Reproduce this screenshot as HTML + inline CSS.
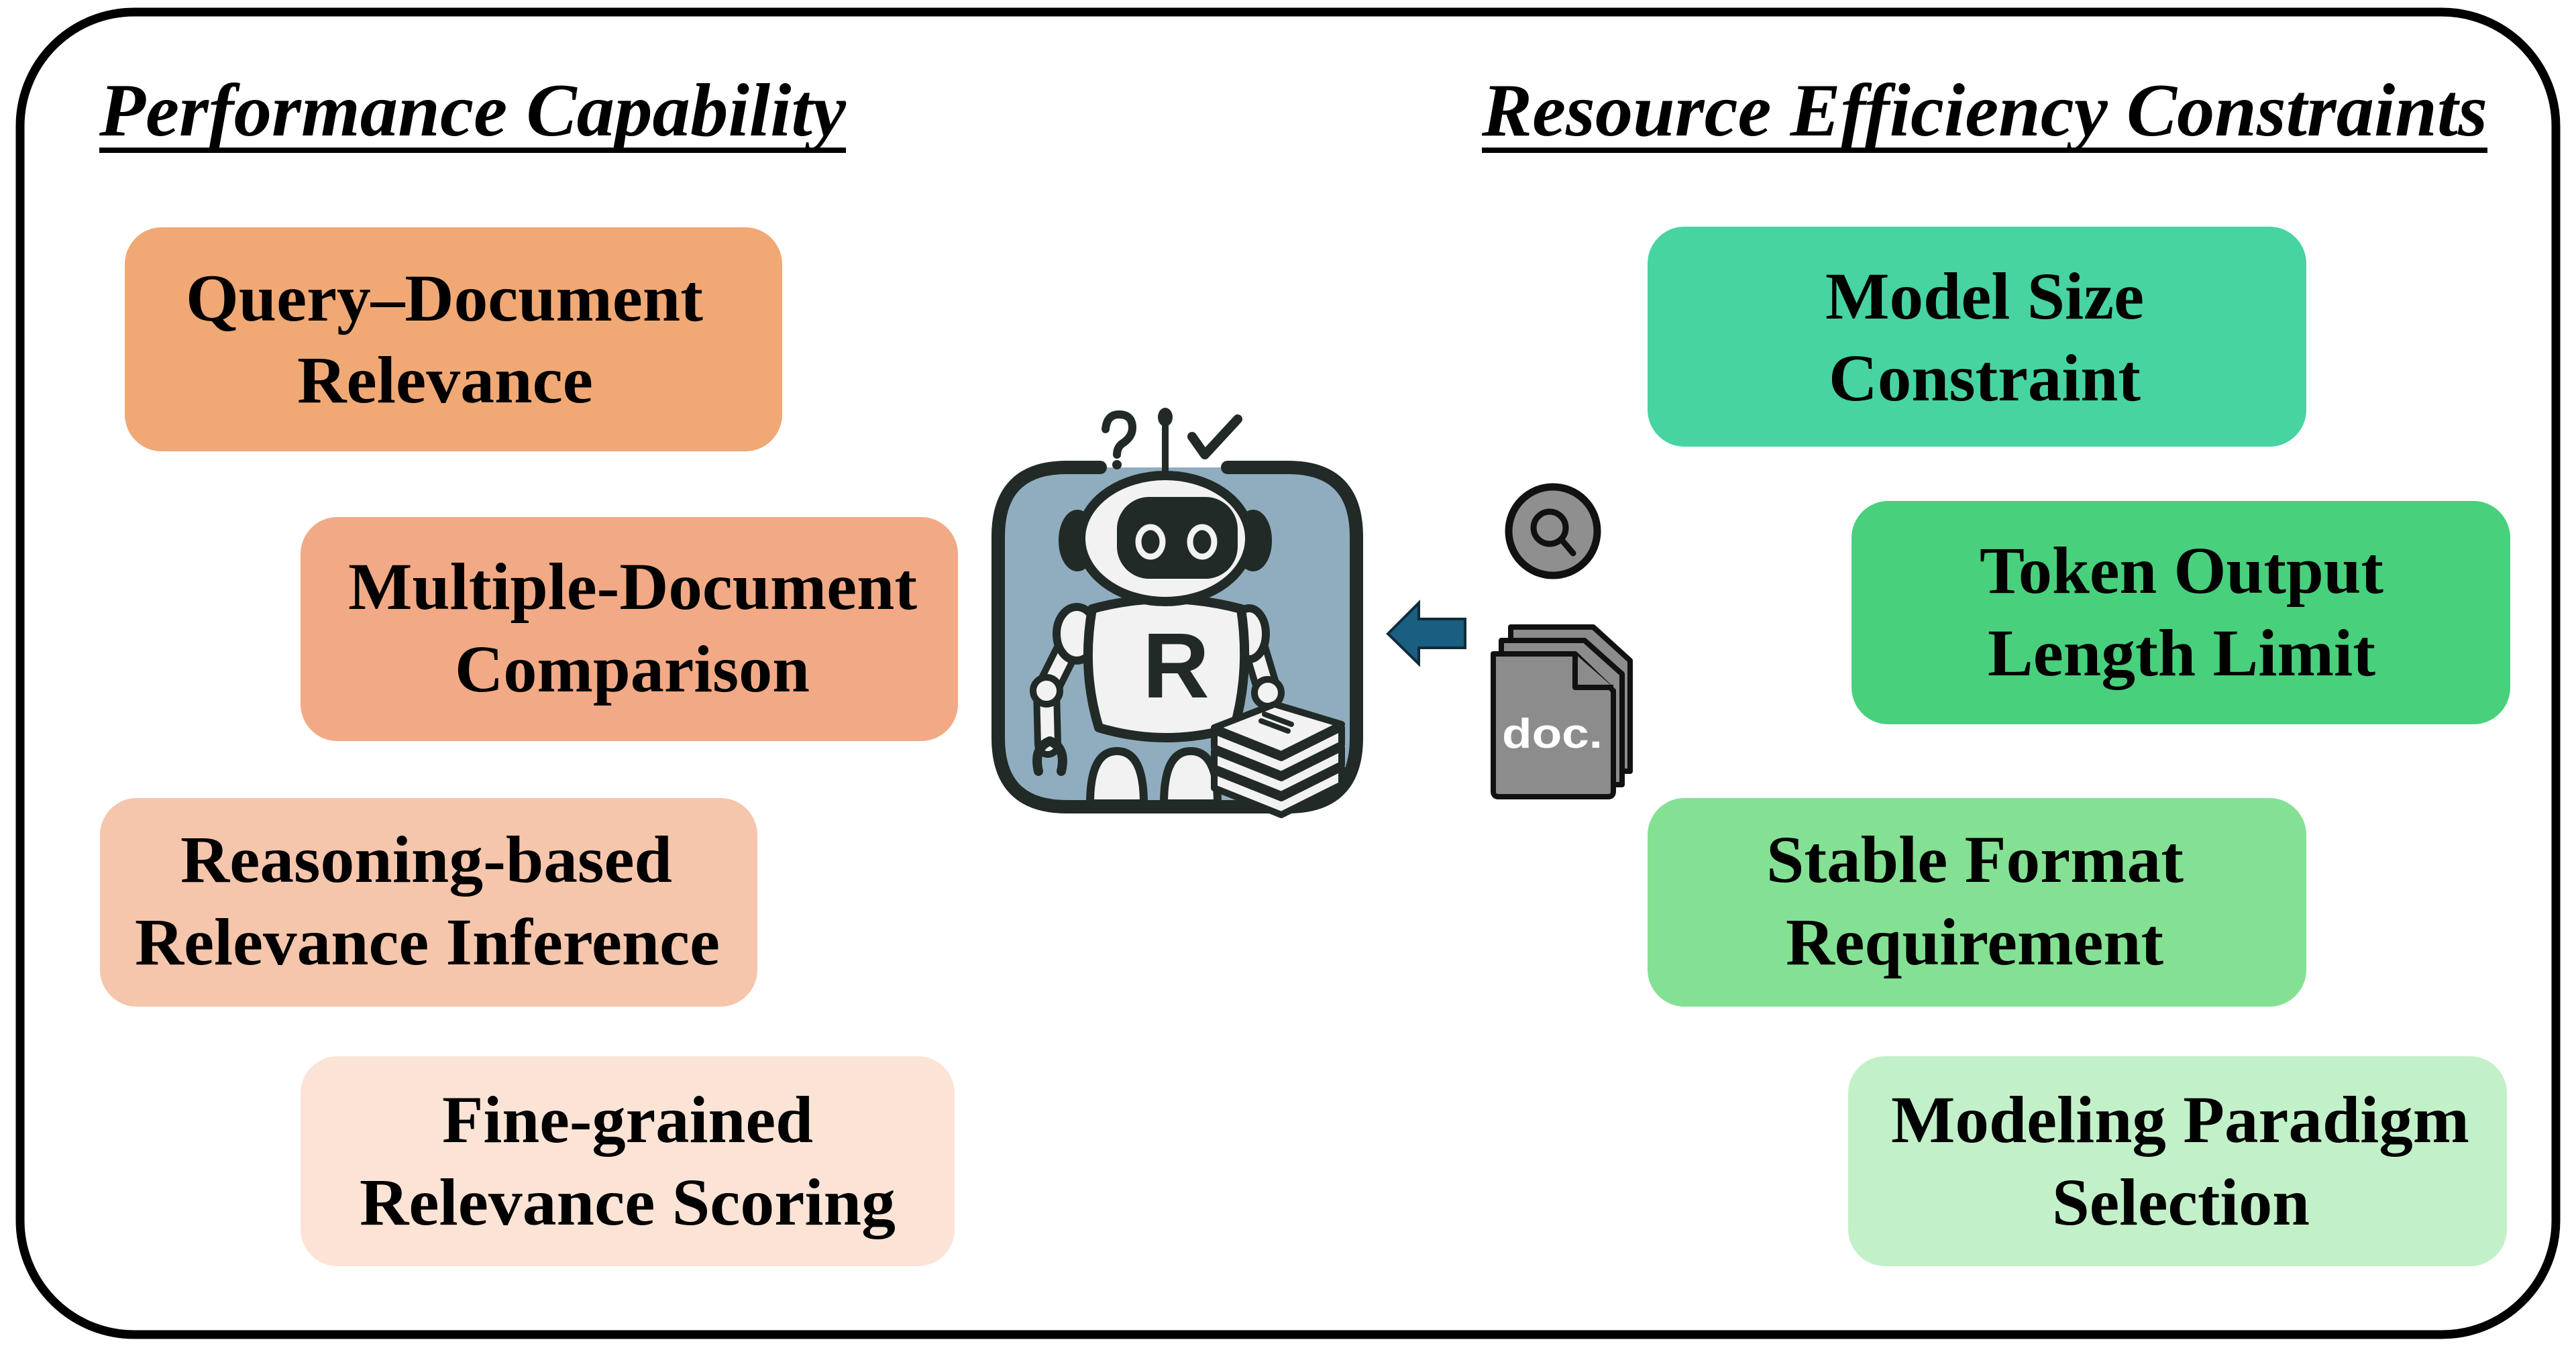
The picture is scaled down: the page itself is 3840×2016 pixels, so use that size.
<!DOCTYPE html>
<html><head><meta charset="utf-8"><style>
html,body{margin:0;padding:0;background:#fff;}
svg{display:block;}
text{font-family:"Liberation Serif",serif;font-weight:bold;fill:#000;}
</style></head><body>
<svg width="3840" height="2016" viewBox="0 0 3840 2016" xmlns="http://www.w3.org/2000/svg">
<rect x="30" y="18" width="3780" height="1972" rx="170" fill="#fff" stroke="#000" stroke-width="13"/>

<text x="148" y="202" font-size="112" font-style="italic" textLength="1113" lengthAdjust="spacingAndGlyphs">Performance Capability</text>
<rect x="148" y="220" width="1113" height="8" fill="#000"/>
<text x="2209" y="202" font-size="112" font-style="italic" textLength="1499" lengthAdjust="spacingAndGlyphs">Resource Efficiency Constraints</text>
<rect x="2209" y="220" width="1499" height="8" fill="#000"/>

<rect x="186" y="339" width="980" height="334" rx="55" fill="#f0a875"/>
<text x="277" y="478" font-size="100" textLength="771" lengthAdjust="spacingAndGlyphs">Query–Document</text>
<text x="443" y="600" font-size="100" textLength="441" lengthAdjust="spacingAndGlyphs">Relevance</text>

<rect x="448" y="771" width="980" height="334" rx="55" fill="#f1aa85"/>
<text x="519" y="908" font-size="100" textLength="848" lengthAdjust="spacingAndGlyphs">Multiple-Document</text>
<text x="678" y="1031" font-size="100" textLength="529" lengthAdjust="spacingAndGlyphs">Comparison</text>

<rect x="149" y="1190" width="980" height="311" rx="55" fill="#f5c5ac"/>
<text x="269" y="1315" font-size="100" textLength="733" lengthAdjust="spacingAndGlyphs">Reasoning-based</text>
<text x="201" y="1438" font-size="100" textLength="872" lengthAdjust="spacingAndGlyphs">Relevance Inference</text>

<rect x="448" y="1575" width="975" height="313" rx="55" fill="#fbe3d6"/>
<text x="659" y="1703" font-size="100" textLength="553" lengthAdjust="spacingAndGlyphs">Fine-grained</text>
<text x="536" y="1826" font-size="100" textLength="799" lengthAdjust="spacingAndGlyphs">Relevance Scoring</text>

<rect x="2456" y="338" width="982" height="328" rx="55" fill="#47d4a0"/>
<text x="2721" y="475" font-size="100" textLength="475" lengthAdjust="spacingAndGlyphs">Model Size</text>
<text x="2726" y="597" font-size="100" textLength="465" lengthAdjust="spacingAndGlyphs">Constraint</text>

<rect x="2760" y="747" width="982" height="333" rx="55" fill="#48d07d"/>
<text x="2951" y="884" font-size="100" textLength="602" lengthAdjust="spacingAndGlyphs">Token Output</text>
<text x="2963" y="1007" font-size="100" textLength="578" lengthAdjust="spacingAndGlyphs">Length Limit</text>

<rect x="2456" y="1190" width="982" height="311" rx="55" fill="#84e194"/>
<text x="2633" y="1315" font-size="100" textLength="622" lengthAdjust="spacingAndGlyphs">Stable Format</text>
<text x="2662" y="1438" font-size="100" textLength="563" lengthAdjust="spacingAndGlyphs">Requirement</text>

<rect x="2755" y="1575" width="982" height="313" rx="55" fill="#c2f0c8"/>
<text x="2819" y="1703" font-size="100" textLength="862" lengthAdjust="spacingAndGlyphs">Modeling Paradigm</text>
<text x="3059" y="1826" font-size="100" textLength="384" lengthAdjust="spacingAndGlyphs">Selection</text>

<g stroke="#222a27" stroke-linecap="round" stroke-linejoin="round">
  <path d="M1640 697 H1590 Q1488 697 1488 800 V1100 Q1488 1203 1590 1203 H1920 Q2022 1203 2022 1100 V800 Q2022 697 1920 697 H1830" fill="#8fadbf" stroke-width="20"/>
  <line x1="1737" y1="625" x2="1737" y2="715" stroke-width="10"/>
  <ellipse cx="1737" cy="622" rx="11" ry="14" fill="#222a27" stroke="none"/>
  <path d="M1648 640 Q1650 618 1668 618 Q1688 618 1688 638 Q1688 652 1672 662 Q1665 668 1665 678" fill="none" stroke-width="12"/>
  <circle cx="1665" cy="693" r="7" fill="#222a27" stroke="none"/>
  <path d="M1777 651 L1796 678 L1845 625" fill="none" stroke-width="14"/>
  <ellipse cx="1606" cy="806" rx="24" ry="42" fill="#222a27" stroke-width="8"/>
  <ellipse cx="1868" cy="806" rx="24" ry="42" fill="#222a27" stroke-width="8"/>
  <path d="M1610 930 L1560 1030 L1562 1110" fill="none" stroke-width="40"/>
  <path d="M1610 930 L1560 1030 L1562 1110" fill="none" stroke="#f2f2f2" stroke-width="20"/>
  <circle cx="1560" cy="1030" r="20" fill="#f2f2f2" stroke-width="10"/>
  <path d="M1548 1150 Q1540 1115 1565 1105 Q1590 1115 1582 1150" fill="none" stroke-width="14"/>
  <path d="M1860 930 L1890 1030" fill="none" stroke-width="40"/>
  <path d="M1860 930 L1890 1030" fill="none" stroke="#f2f2f2" stroke-width="20"/>
  <circle cx="1890" cy="1033" r="20" fill="#f2f2f2" stroke-width="10"/>
  <ellipse cx="1605" cy="945" rx="30" ry="40" fill="#f2f2f2" stroke-width="12"/>
  <ellipse cx="1862" cy="945" rx="25" ry="38" fill="#f2f2f2" stroke-width="12"/>
  <path d="M1625 1198 Q1625 1120 1665 1120 Q1705 1120 1705 1198 Z" fill="#f2f2f2" stroke-width="12"/>
  <path d="M1735 1198 Q1735 1120 1775 1120 Q1815 1120 1815 1198 Z" fill="#f2f2f2" stroke-width="12"/>
  <path d="M1628 908 Q1737 878 1850 908 Q1864 1000 1840 1085 Q1737 1115 1638 1085 Q1612 1000 1628 908 Z" fill="#f2f2f2" stroke-width="14"/>
  <ellipse cx="1737" cy="803" rx="126" ry="94" fill="#f2f2f2" stroke-width="14"/>
  <rect x="1665" y="741" width="180" height="122" rx="48" fill="#222a27" stroke="none"/>
  <ellipse cx="1715" cy="808" rx="18" ry="22" fill="none" stroke="#f2f2f2" stroke-width="9"/>
  <ellipse cx="1792" cy="808" rx="18" ry="22" fill="none" stroke="#f2f2f2" stroke-width="9"/>
  <path d="M1810 1175 L1910 1215 L2000 1170 L2000 1145 L1910 1190 L1810 1150 Z" fill="#f2f2f2" stroke-width="10"/>
  <path d="M1810 1145 L1910 1185 L2000 1140 L2000 1115 L1910 1160 L1810 1120 Z" fill="#f2f2f2" stroke-width="10"/>
  <path d="M1810 1115 L1910 1155 L2000 1110 L2000 1085 L1910 1130 L1810 1090 Z" fill="#f2f2f2" stroke-width="10"/>
  <path d="M1810 1085 L1910 1125 L2000 1080 L1900 1050 Z" fill="#f2f2f2" stroke-width="10"/>
  <path d="M1880 1075 L1920 1090 M1885 1065 L1925 1080" stroke-width="8"/>
</g>
<text x="1753" y="1040" text-anchor="middle" font-size="138" style="font-family:'Liberation Sans',sans-serif;fill:#222a27">R</text>

<path d="M2184 923 H2115 V899 L2069 945 L2115 990 V966 H2184 Z" fill="#1a5e82" stroke="#102c38" stroke-width="4"/>

<circle cx="2315" cy="792" r="66" fill="#8f8f8f" stroke="#111" stroke-width="11"/>
<circle cx="2310" cy="787" r="24" fill="none" stroke="#111" stroke-width="9"/>
<line x1="2328" y1="805" x2="2345" y2="825" stroke="#111" stroke-width="9" stroke-linecap="round"/>

<g stroke="#111" stroke-width="8" stroke-linejoin="round" fill="#8c8c8c">
  <path d="M2252 935 H2375 L2430 985 V1150 H2252 Z"/>
  <path d="M2238 955 H2362 L2418 1005 V1170 H2238 Z"/>
  <path d="M2226 975 H2348 L2405 1030 V1180 Q2405 1188 2397 1188 H2234 Q2226 1188 2226 1180 Z"/>
  <path d="M2348 975 V1025 H2405" fill="#8c8c8c"/>
</g>
<text x="2314" y="1115" text-anchor="middle" font-size="62" style="font-family:'Liberation Sans',sans-serif;fill:#fff;font-weight:bold" textLength="150" lengthAdjust="spacingAndGlyphs">doc.</text>
</svg>
</body></html>
